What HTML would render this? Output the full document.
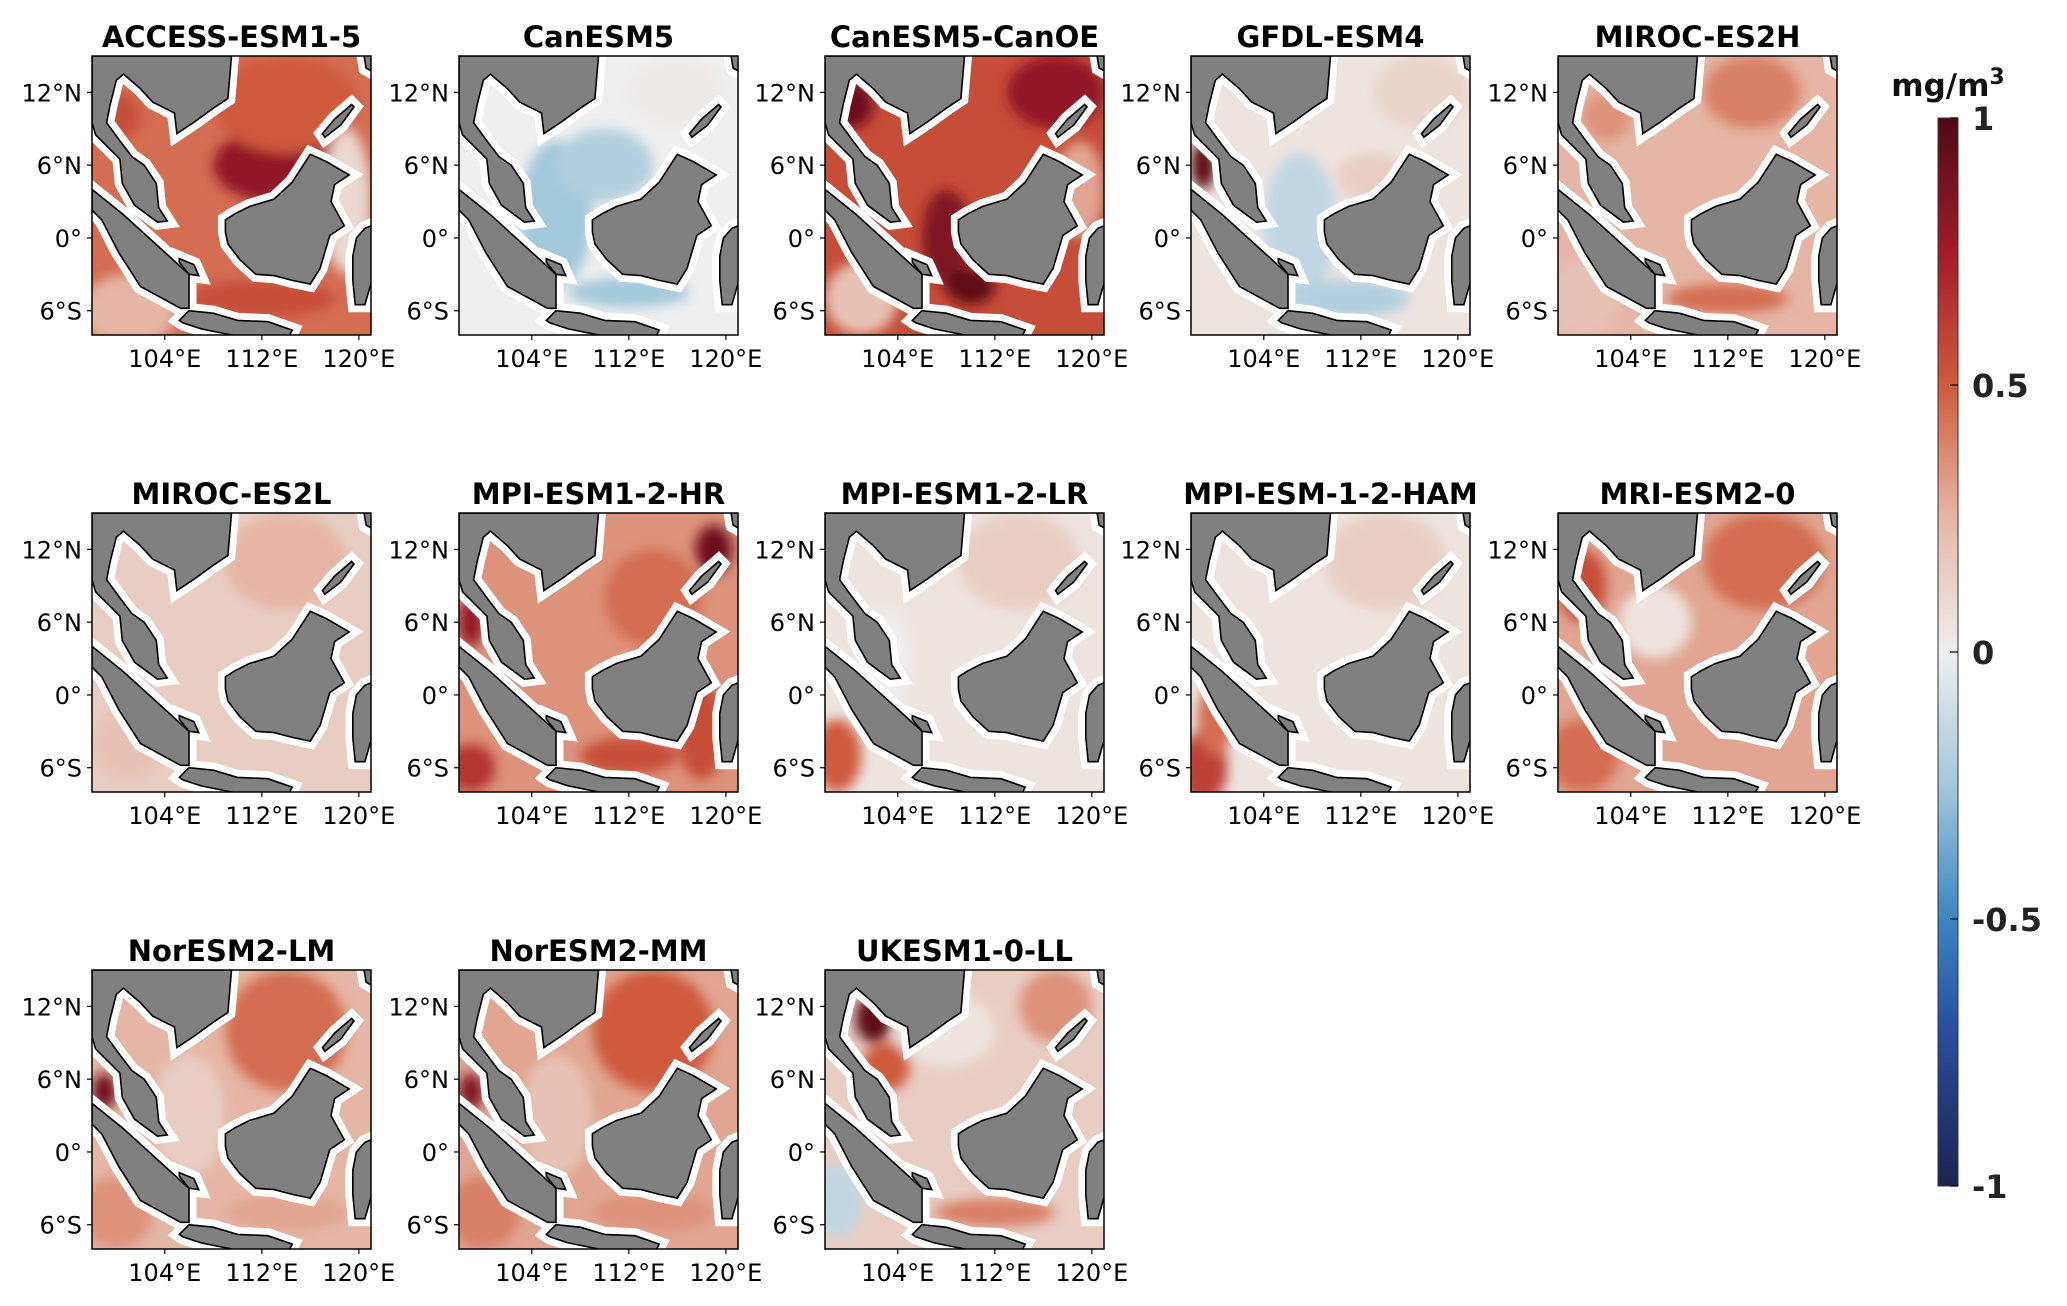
<!DOCTYPE html>
<html><head><meta charset="utf-8"><style>
html,body{margin:0;padding:0;background:#fff;}
body{width:2067px;height:1302px;overflow:hidden;font-family:"DejaVu Sans","Liberation Sans",sans-serif;}
</style></head><body>
<svg id="fig" width="2067" height="1302" viewBox="0 0 2067 1302" xmlns="http://www.w3.org/2000/svg" font-family="DejaVu Sans, Liberation Sans, sans-serif">
<defs>
<linearGradient id="cbgrad" x1="0" y1="1" x2="0" y2="0">
<stop offset="0" stop-color="#1b2550"/><stop offset="0.15" stop-color="#2a4fa0"/><stop offset="0.25" stop-color="#3b86c2"/>
<stop offset="0.37" stop-color="#9ec6da"/><stop offset="0.5" stop-color="#efefef"/><stop offset="0.63" stop-color="#e5b4a2"/>
<stop offset="0.75" stop-color="#cf5a3c"/><stop offset="0.87" stop-color="#a51d2a"/><stop offset="1" stop-color="#4e0a14"/>
</linearGradient>
<filter id="blur" x="-50%" y="-50%" width="200%" height="200%"><feGaussianBlur stdDeviation="6"/></filter>
</defs>
</svg>
<script>
const modelNames=["ACCESS-ESM1-5","CanESM5","CanESM5-CanOE","GFDL-ESM4","MIROC-ES2H","MIROC-ES2L","MPI-ESM1-2-HR","MPI-ESM1-2-LR","MPI-ESM-1-2-HAM","MRI-ESM2-0","NorESM2-LM","NorESM2-MM","UKESM1-0-LL"];
const baseValues=[0.45,0.0,0.55,0.05,0.25,0.15,0.35,0.05,0.05,0.3,0.25,0.3,0.15];
// blobs: [lon, lat, rLon, rLat, value]
const anomalyBlobs=[
 [[113,6,5,3,0.8],[114,11,6,4,0.5],[100,10,2,2,0.55],[101,-6,4,3,0.25],[119,3,2,6,0.1],[112,-5,6,1.5,0.55]],
 [[106,2,3,6,-0.25],[110,6,4,3,-0.2],[112,-4.5,5,1.2,-0.25],[116,12,4,3,0.02]],
 [[108,0,2,4,0.85],[110,-4,2,1.5,0.95],[100,11,2,2,0.9],[117,12,4,3,0.8],[101,-5,3,3,0.2],[119,4,2,4,0.3]],
 [[99,6,1,2,0.95],[107,1,3,6,-0.15],[111,-5,5,1.5,-0.2],[117,12,4,3,0.12],[113,5,3,2,0.15]],
 [[102,10,2,2,0.35],[114,12,4,3,0.4],[112,-5,5,1.2,0.45],[100,-5,3,3,0.2]],
 [[114,11,5,4,0.25],[101,-4,3,3,0.2]],
 [[99,6,1,2,0.8],[99,-6,2,2,0.65],[119,12,1.5,2,0.9],[114,8,4,4,0.45],[118,-3,2,4,0.55],[112,-5,4,1.5,0.55]],
 [[114,11,5,4,0.15],[99,-5,2,3,0.5],[103,3,2,4,0.0]],
 [[114,11,5,4,0.15],[99,-6,2,3,0.6],[100,-2,1.5,3,0.45]],
 [[115,11,5,4,0.45],[106,6,3,3,0.05],[100,9,2,3,0.55],[100,-5,3,3,0.45]],
 [[114,10,5,5,0.45],[99,5,1,1.5,0.9],[106,3,3,5,0.15],[114,-5,5,1.5,0.3],[100,-5,3,3,0.35]],
 [[114,10,5,5,0.5],[99,5,1,1.5,0.85],[106,3,3,5,0.2],[114,-5,5,1.5,0.35],[100,-5,3,3,0.4]],
 [[102,11,1.5,2,0.95],[103,7,2,2,0.5],[99,-4,2,3,-0.15],[108,10,4,3,0.05],[117,12,3,3,0.35],[112,-5,5,1.2,0.4]]
];
const latTicks=[12,6,0,-6];
const latLabels=["12°N","6°N","0°","6°S"];
const lonTicks=[104,112,120];
const lonLabels=["104°E","112°E","120°E"];
const cbTicks=[1,0.5,0,-0.5,-1];
const cbLabels=["1","0.5","0","-0.5","-1"];

const land={
 indochina:[[98,15],[109.5,15],[109.2,11.5],[108,10.7],[106.5,9.6],[105,8.6],[104.8,10.3],[103,11.2],[102,12.3],[100.6,13.5],[100,13],[99.5,11],[99.2,9.5],[100.3,8],[101.3,6.7],[102.3,6],[103.3,4.5],[103.5,2.5],[104.2,1.4],[103.4,1.3],[101.5,2.7],[100.5,4.5],[100.3,6.5],[99,7.8],[98.3,8.5],[98,9.5]],
 sumatra:[[98,4],[100.5,2],[103.8,-1],[106,-3],[106,-5.8],[105.3,-5.8],[102,-4],[100.2,-1.2],[98.8,1.5],[98,2.3]],
 borneo:[[109,1.5],[109.8,2],[111,2.6],[113,3.2],[114.5,4.6],[116,6.9],[117.3,6.3],[119.2,5.2],[118,4.4],[117.7,3],[118.8,1],[117.6,0.2],[116.8,-2.5],[116,-3.8],[114.5,-3.5],[113,-3.1],[111.5,-3],[110.2,-1.8],[109.2,-0.5],[109,0.5]],
 java:[[105.2,-6.8],[106,-6],[108,-6.2],[110,-6.8],[112.5,-6.9],[114.5,-7.6],[114.2,-8.2],[110,-8.1],[107,-7.5],[105.5,-7]],
 palawan:[[117.2,8.3],[118.5,9.3],[119.6,10.8],[119.4,11],[118,9.8],[117,8.6]],
 sulawesi:[[121.5,1.2],[120.5,0.8],[119.8,0],[119.5,-1.5],[119.5,-3.5],[119.7,-5.5],[120.5,-5.5],[121.5,-2]],
 bangka:[[105.2,-1.7],[106.4,-2.2],[106.8,-3.1],[106,-3],[105.2,-2]],
 luzon:[[120.4,15.2],[121.5,15.2],[121.5,13.5],[120.6,14]]
};

const NS="http://www.w3.org/2000/svg";
const svg=document.getElementById('fig');
function mk(tag,attrs,parent){const e=document.createElementNS(NS,tag);for(const k in attrs)e.setAttribute(k,attrs[k]);(parent||svg).appendChild(e);return e;}
const stops=[[-1,[27,37,80]],[-0.7,[42,79,160]],[-0.5,[59,134,194]],[-0.26,[158,198,218]],[0,[239,239,239]],[0.26,[229,180,162]],[0.5,[207,90,60]],[0.74,[165,29,42]],[1,[78,10,20]]];
function cmap(v){v=Math.max(-1,Math.min(1,v));for(let i=0;i<stops.length-1;i++){const a=stops[i],b=stops[i+1];if(v<=b[0]){const t=(v-a[0])/(b[0]-a[0]);const c=a[1].map((x,j)=>Math.round(x+(b[1][j]-x)*t));return `rgb(${c.join(',')})`;}}return 'rgb(78,10,20)';}

const PW=279,PH=279,LON0=98,LON1=121,LAT0=-8,LAT1=15;
const colX=[92,459,825,1191,1558],rowY=[56,513,970];
modelNames.forEach((name,i)=>{
 const px=colX[i%5],py=rowY[Math.floor(i/5)];
 const xs=lon=>px+(lon-LON0)/(LON1-LON0)*PW;
 const ys=lat=>py+(LAT1-lat)/(LAT1-LAT0)*PH;
 const g=mk('g',{});
 
 
 const cp=mk('clipPath',{id:'cp'+i},g);mk('rect',{x:px,y:py,width:PW,height:PH},cp);
 const inner=mk('g',{'clip-path':`url(#cp${i})`},g);
 const bg=mk('rect',{x:px,y:py,width:PW,height:PH,fill:cmap(baseValues[i])},inner);
 
 
 const bl=mk('g',{filter:'url(#blur)'},inner);
 anomalyBlobs[i].forEach(b=>{
  const e=mk('ellipse',{cx:xs(b[0]),cy:ys(b[1]),rx:b[2]/(LON1-LON0)*PW,ry:b[3]/(LAT1-LAT0)*PH,fill:cmap(b[4])},bl);
  
  
 });
 const pts=p=>p.map(q=>xs(q[0]).toFixed(1)+','+ys(q[1]).toFixed(1)).join(' ');
 for(const k in land){mk('polygon',{points:pts(land[k]),fill:'#fff',stroke:'#fff','stroke-width':15,'stroke-linejoin':'miter'},inner);}
 for(const k in land){const p=mk('polygon',{points:pts(land[k]),fill:'#808080',stroke:'#000','stroke-width':1.6},inner);
  
  }
 const fr=mk('rect',{x:px,y:py,width:PW,height:PH,fill:'none',stroke:'#000','stroke-width':1.5},g);
 
 
 const t=mk('text',{x:px+PW/2,y:py-9,'text-anchor':'middle','font-size':29,'font-weight':'bold',fill:'#000'},g);
 t.textContent=name;
 
 
 latTicks.forEach((lt,j)=>{
  mk('line',{x1:px-5,x2:px,y1:ys(lt),y2:ys(lt),stroke:'#000','stroke-width':1.2},g);
  const l=mk('text',{x:px-10,y:ys(lt)+9,'text-anchor':'end','font-size':24,fill:'#000'},g);
  l.textContent=latLabels[j];
  
  
 });
 lonTicks.forEach((ln,j)=>{
  mk('line',{x1:xs(ln),x2:xs(ln),y1:py+PH,y2:py+PH+5,stroke:'#000','stroke-width':1.2},g);
  const l=mk('text',{x:xs(ln),y:py+PH+32,'text-anchor':'middle','font-size':24,fill:'#000'},g);
  l.textContent=lonLabels[j];
  
  
 });
});
// colorbar
const cbX=1938,cbW=20,cbTop=118,cbBot=1186;
const cbY=v=>cbTop+(1-v)/2*(cbBot-cbTop);
const cb=mk('rect',{x:cbX,y:cbTop,width:cbW,height:cbBot-cbTop,fill:'url(#cbgrad)',stroke:'#333','stroke-width':1});


cbTicks.forEach((v,j)=>{
 mk('line',{x1:cbX+cbW-8,x2:cbX+cbW,y1:cbY(v),y2:cbY(v),stroke:'#000','stroke-width':1.2});
 const l=mk('text',{x:cbX+cbW+14,y:cbY(v)+12,'font-size':32,'font-weight':'bold',fill:'#222'});
 l.textContent=cbLabels[j];
 
 
});
const ut=mk('text',{x:1948,y:96,'text-anchor':'middle','font-size':31,'font-weight':'bold',fill:'#111'});
ut.innerHTML='mg/m<tspan dy="-12" font-size="22">3</tspan>';


</script>
</body></html>
